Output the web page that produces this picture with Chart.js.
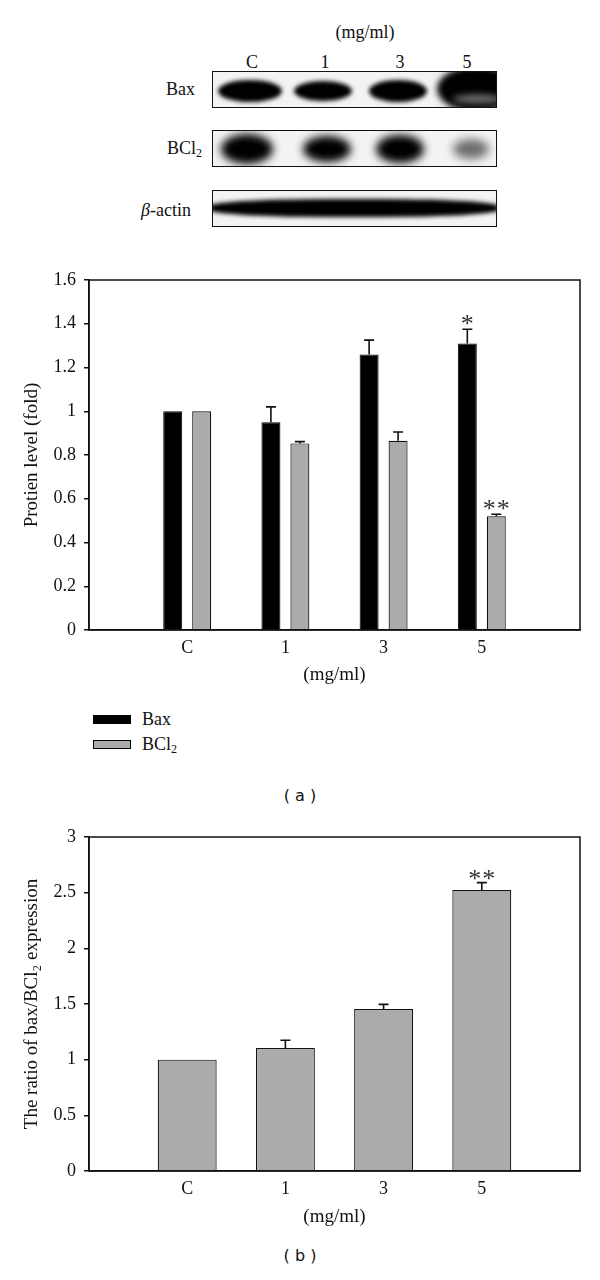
<!DOCTYPE html>
<html><head><meta charset="utf-8">
<script src="https://cdn.jsdelivr.net/npm/chart.js@4.4.0/dist/chart.umd.min.js"></script>
<style>
html,body{margin:0;padding:0;background:#fff}
body{width:600px;height:1280px;position:relative;overflow:hidden;font-family:"Liberation Serif","Times New Roman",serif;color:#111}
.abs{position:absolute}
.c{transform:translate(-50%,-50%);white-space:nowrap}
.r{transform:translate(0,-50%);white-space:nowrap}
.box{position:absolute;border:1.5px solid #111;background:#f3f3f3;overflow:hidden}
.band{position:absolute;border-radius:50%;background:#000}
</style></head>
<body>
<!-- western blot (decorative picture) -->
<div class="abs c" style="left:365px;top:32px;font-size:18px">(mg/ml)</div>
<div class="abs c" style="left:252px;top:62px;font-size:18px">C</div>
<div class="abs c" style="left:325px;top:62px;font-size:18px">1</div>
<div class="abs c" style="left:400px;top:62px;font-size:18px">3</div>
<div class="abs c" style="left:467px;top:62px;font-size:18px">5</div>
<div class="abs r" style="left:166px;top:89px;font-size:18px">Bax</div>
<div class="abs r" style="left:167px;top:149px;font-size:18px">BCl<sub style="font-size:12px;vertical-align:-3px">2</sub></div>
<div class="abs r" style="left:141px;top:210px;font-size:18px"><i>β</i>-actin</div>

<div class="box" style="left:212px;top:71px;width:283px;height:35px">
  <div class="band" style="left:5px;top:8px;width:64px;height:22px;filter:blur(2px)"></div>
  <div class="band" style="left:81px;top:9px;width:58px;height:20px;filter:blur(2px)"></div>
  <div class="band" style="left:156px;top:8px;width:58px;height:22px;filter:blur(2px)"></div>
  <div class="band" style="left:224px;top:-6px;width:80px;height:46px;filter:blur(3px)"></div>
  <div class="band" style="left:240px;top:22px;width:50px;height:10px;filter:blur(3px);background:#666"></div>
</div>
<div class="box" style="left:212px;top:130px;width:283px;height:35px">
  <div class="band" style="left:8px;top:3px;width:52px;height:30px;filter:blur(4px)"></div>
  <div class="band" style="left:90px;top:5px;width:48px;height:26px;filter:blur(4px)"></div>
  <div class="band" style="left:163px;top:4px;width:48px;height:28px;filter:blur(4px)"></div>
  <div class="band" style="left:240px;top:8px;width:36px;height:20px;filter:blur(5px);opacity:0.55"></div>
</div>
<div class="box" style="left:212px;top:190px;width:283px;height:35px">
  <div class="band" style="left:-4px;top:8px;width:290px;height:18px;border-radius:40%;filter:blur(2px)"></div>
</div>

<div class="abs" style="left:0;top:261px;width:600px;height:429px"><canvas id="ca"></canvas></div>

<!-- legend -->
<div class="abs" style="left:93px;top:715px;width:36px;height:7px;background:#000;border:1px solid #000"></div>
<div class="abs r" style="left:142px;top:719px;font-size:18px">Bax</div>
<div class="abs" style="left:93px;top:740px;width:36px;height:7px;background:#ababab;border:1px solid #000"></div>
<div class="abs r" style="left:142px;top:745px;font-size:18px">BCl<sub style="font-size:12px;vertical-align:-3px">2</sub></div>

<div class="abs c" style="left:300px;top:795px;font-family:'DejaVu Sans',sans-serif;font-size:16px">( a )</div>

<div class="abs" style="left:0;top:818px;width:600px;height:419px"><canvas id="cb"></canvas></div>

<div class="abs c" style="left:300px;top:1255px;font-family:'DejaVu Sans',sans-serif;font-size:16px">( b )</div>

<script>
// ---------- data ----------
const doses = ['C', '1', '3', '5'];
const baxMean = [1.00, 0.95, 1.26, 1.31];
const baxErr = [0, 0.07, 0.065, 0.065];
const baxMarks = ['', '', '', '*'];
const bcl2Mean = [1.00, 0.853, 0.865, 0.52];
const bcl2Err = [0, 0.008, 0.04, 0.009];
const bcl2Marks = ['', '', '', '**'];
const ratioMean = [1.00, 1.105, 1.455, 2.525];
const ratioErr = [0, 0.07, 0.042, 0.065];
const ratioMarks = ['', '', '', '**'];
const yTicksA = [0, 0.2, 0.4, 0.6, 0.8, 1.0, 1.2, 1.4, 1.6];
const yTickLabelsA = ['0', '0.2', '0.4', '0.6', '0.8', '1', '1.2', '1.4', '1.6'];
const yTicksB = [0, 0.5, 1.0, 1.5, 2.0, 2.5, 3.0];
const yTickLabelsB = ['0', '0.5', '1', '1.5', '2', '2.5', '3'];
const xTitle = '(mg/ml)';
const yTitleA = 'Protien level (fold)';
const yTitleB = 'The ratio of bax/BCl\u2082 expression';

// padded category list: an empty slot at each end
const xLabels = [''].concat(doses, ['']);
const pad = a => [null].concat(a, [null]);

const SERIF = "'Liberation Serif','Times New Roman',serif";
Chart.defaults.font.family = SERIF;
Chart.defaults.color = '#111';
Chart.defaults.animation = false;

const errorBars = {
  id: 'errorBars',
  afterDatasetsDraw(chart, args, opts) {
    const ctx = chart.ctx, ys = chart.scales.y;
    ctx.save();
    chart.data.datasets.forEach((ds, di) => {
      const meta = chart.getDatasetMeta(di);
      meta.data.forEach((bar, i) => {
        const v = ds.data[i];
        if (v == null) return;
        const e = ds.errors ? ds.errors[i] : 0;
        let top = bar.y;
        if (e) {
          const ey = ys.getPixelForValue(v + e);
          ctx.strokeStyle = '#111';
          ctx.lineWidth = 1.6;
          ctx.beginPath();
          ctx.moveTo(bar.x, bar.y);
          ctx.lineTo(bar.x, ey);
          ctx.moveTo(bar.x - opts.cap, ey);
          ctx.lineTo(bar.x + opts.cap, ey);
          ctx.stroke();
          top = ey;
        }
        const m = ds.marks ? ds.marks[i] : '';
        if (m) {
          ctx.fillStyle = '#333';
          ctx.font = opts.markFont;
          ctx.textAlign = 'center';
          ctx.textBaseline = 'alphabetic';
          const mt = ctx.measureText('*');
          const base = top - opts.markGap - (mt.actualBoundingBoxDescent - mt.actualBoundingBoxAscent) / 2;
          const n = m.length;
          for (let k = 0; k < n; k++) {
            const dx = (k - (n - 1) / 2) * opts.markSpacing;
            ctx.fillText('*', bar.x + dx, base);
          }
        }
      });
    });
    ctx.restore();
  }
};

const frame = {
  id: 'frame',
  afterDraw(chart) {
    const {ctx, chartArea: a} = chart;
    ctx.save();
    ctx.strokeStyle = '#111';
    ctx.lineWidth = 1.5;
    ctx.strokeRect(a.left, a.top, a.right - a.left, a.bottom - a.top);
    ctx.restore();
  }
};

function makeOptions(ticks, tickLabels, yMax, yTitle, xHeight, xTitlePad, markGap) {
  return {
    responsive: true,
    maintainAspectRatio: false,
    layout: {padding: {left: 0, right: 20, top: 19, bottom: 0}},
    plugins: {
      legend: {display: false},
      tooltip: {enabled: false},
      errorBars: {cap: 5, markFont: "26px " + SERIF, markGap: markGap, markSpacing: 14}
    },
    scales: {
      x: {
        type: 'category',
        offset: false,
        grid: {display: false, drawTicks: false},
        border: {display: true, color: '#111', width: 1.5},
        ticks: {font: {size: 18}, padding: 7, color: '#111', autoSkip: false, maxRotation: 0},
        title: {display: true, text: xTitle, font: {size: 19}, color: '#111', padding: {top: 0, bottom: xTitlePad}},
        afterFit: s => { s.height = xHeight; }
      },
      y: {
        min: 0, max: yMax,
        grid: {display: true, drawOnChartArea: false, drawTicks: true, tickLength: 5, color: '#111', lineWidth: 1.5},
        border: {display: true, color: '#111', width: 1.5},
        ticks: {font: {size: 18}, padding: 8, color: '#111', callback: (v) => { const k = ticks.indexOf(v); return k >= 0 ? tickLabels[k] : ''; }},
        afterBuildTicks: s => { s.ticks = ticks.map(v => ({value: v})); },
        title: {display: true, text: yTitle, font: {size: 19}, color: '#111', padding: {top: 21, bottom: 0}},
        afterFit: s => { s.width = 89; }
      }
    }
  };
}

new Chart(document.getElementById('ca'), {
  type: 'bar',
  data: {
    labels: xLabels,
    datasets: [
      {label: 'Bax', data: pad(baxMean), errors: pad(baxErr), marks: pad(baxMarks),
       backgroundColor: '#000', borderColor: '#000', borderWidth: 1,
       categoryPercentage: 0.59, barPercentage: 0.655},
      {label: 'BCl\u2082', data: pad(bcl2Mean), errors: pad(bcl2Err), marks: pad(bcl2Marks),
       backgroundColor: '#ababab', borderColor: '#111', borderWidth: 1.2,
       categoryPercentage: 0.59, barPercentage: 0.655}
    ]
  },
  options: makeOptions(yTicksA, yTickLabelsA, 1.6, yTitleA, 60, 3.5, 9.5),
  plugins: [errorBars, frame]
});

new Chart(document.getElementById('cb'), {
  type: 'bar',
  data: {
    labels: xLabels,
    datasets: [
      {label: 'bax/BCl\u2082', data: pad(ratioMean), errors: pad(ratioErr), marks: pad(ratioMarks),
       backgroundColor: '#ababab', borderColor: '#111', borderWidth: 1.2,
       categoryPercentage: 0.6, barPercentage: 1.0}
    ]
  },
  options: makeOptions(yTicksB, yTickLabelsB, 3, yTitleB, 66, 8.5, 7.5),
  plugins: [errorBars, frame]
});
</script>
</body></html>
